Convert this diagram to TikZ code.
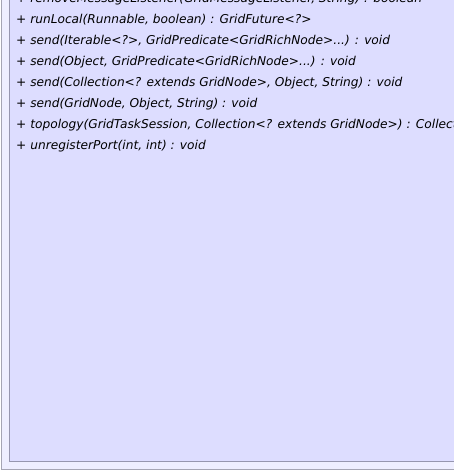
\documentclass[tikz,border=0pt]{standalone}
\usepackage{fontspec}
\setmainfont{DejaVu Sans}
\definecolor{framefill}{RGB}{238,238,255}
\definecolor{boxfill}{RGB}{221,221,255}
\definecolor{frameline}{RGB}{165,165,180}
\definecolor{boxline}{RGB}{150,150,175}
\begin{document}
\begin{tikzpicture}[
        x=1pt, y=1pt,
        frame/.style = {draw=frameline, fill=framefill, line width=1pt}, % внешняя рамка
        classbox/.style = {draw=boxline, fill=boxfill, line width=1pt}, % тело класса
        op/.style = {anchor=base west, inner sep=0pt, font=\fontsize{12.2}{14}\selectfont\itshape}, % строки методов
    ]
    \useasboundingbox (0,0) rectangle (454,472);
    \clip (0,0) rectangle (454,472);

    \draw[frame] (1,2) rectangle (490,500);
    \draw[classbox] (9,10) rectangle (490,500);

    \node[op] (remove) at (16,469) {+ removeMessageListener(GridMessageListener, String) : boolean};
    \node[op] (runlocal) at (16,448) {+ runLocal(Runnable, boolean) : GridFuture<?>};
    \node[op] (senditer) at (16,427) {+ send(Iterable<?>, GridPredicate<GridRichNode>...) : void};
    \node[op] (sendobj) at (16,406) {+ send(Object, GridPredicate<GridRichNode>...) : void};
    \node[op] (sendcoll) at (16,385) {+ send(Collection<? extends GridNode>, Object, String) : void};
    \node[op] (sendnode) at (16,364) {+ send(GridNode, Object, String) : void};
    \node[op] (topology) at (16,343) {+ topology(GridTaskSession, Collection<? extends GridNode>) : Collection<GridNode>};
    \node[op] (unregport) at (16,322) {+ unregisterPort(int, int) : void};
\end{tikzpicture}
\end{document}
